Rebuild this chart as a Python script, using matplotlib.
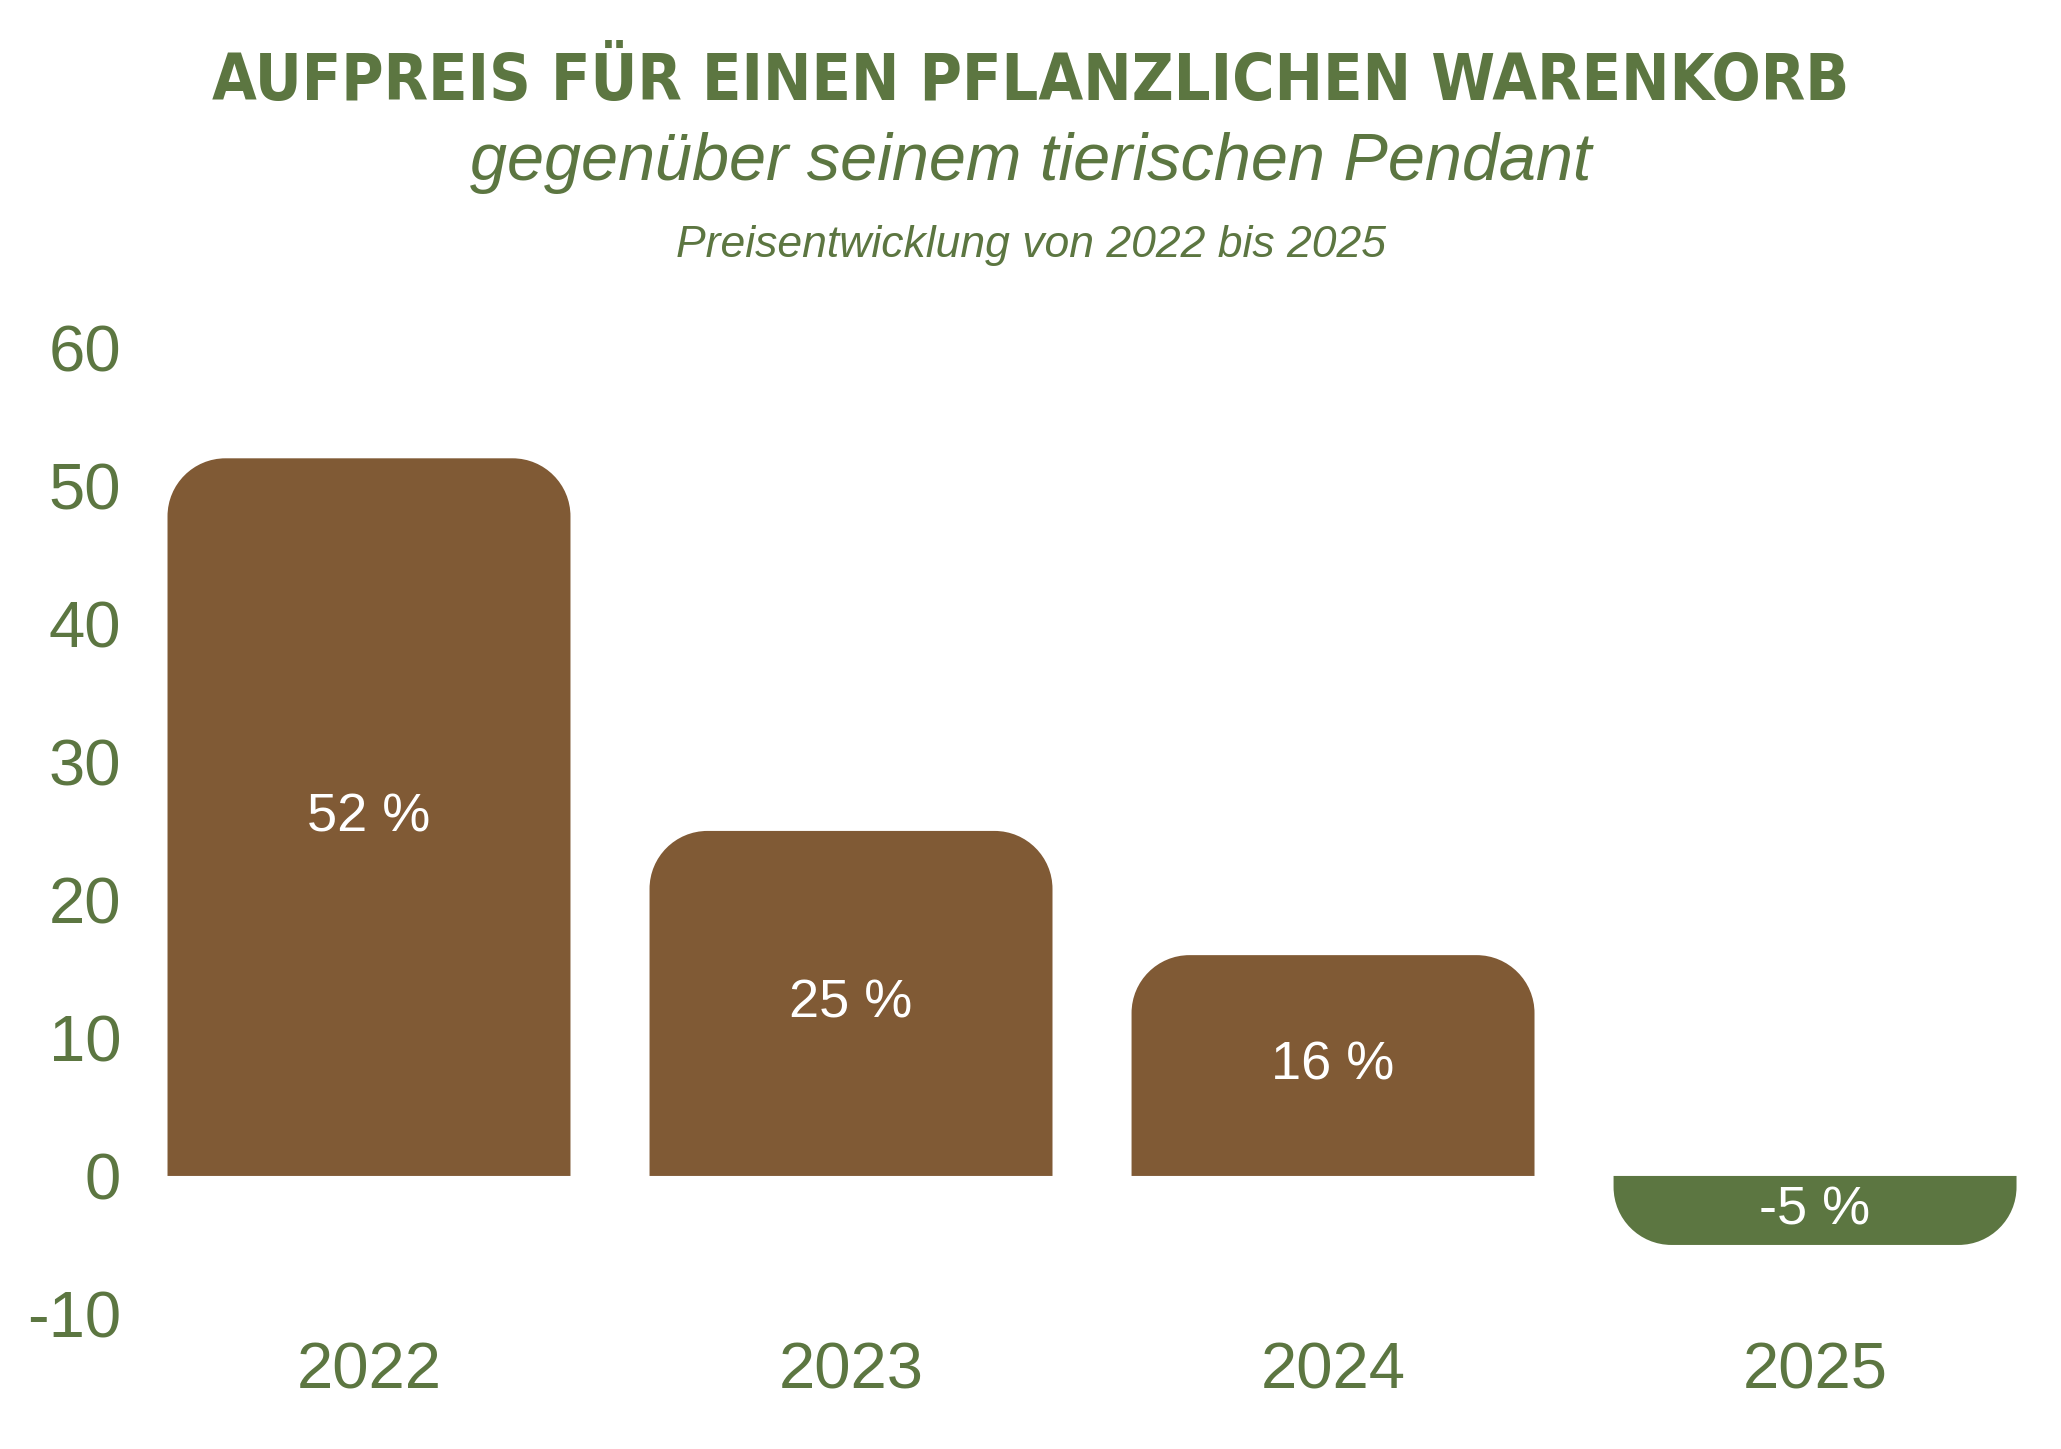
import numpy as np
import matplotlib
matplotlib.use('Agg')
import matplotlib.pyplot as plt
from matplotlib import font_manager
from matplotlib.path import Path
from matplotlib.patches import PathPatch

# data
years = ['2022', '2023', '2024', '2025']
values = [52, 25, 16, -5]
labels = ['52 %', '25 %', '16 %', '-5 %']
yticks = [-10, 0, 10, 20, 30, 40, 50, 60]

brown = '#805A35'
green = '#5C7641'

plt.rcParams['font.family'] = ['Liberation Sans', 'DejaVu Sans']
plt.rcParams['axes.unicode_minus'] = False

fig = plt.figure(figsize=(20.61, 14.49), dpi=100)
ax = fig.add_axes([0.0621, 0.0932, 0.9355, 0.6667])
ax.set_xlim(-0.5, 3.5)
ax.set_ylim(-10, 60)

bar_w = 0.836
radius_px = 58

# pixels per data unit, to get round corners in screen space
fig.canvas.draw()
p0 = ax.transData.transform((0, 0))
p1 = ax.transData.transform((1, 1))
rx = radius_px / (p1[0] - p0[0])
ry = radius_px / (p1[1] - p0[1])
k = 0.5523


def rounded_bar(x, h, color):
    # rounded corners on the far end only (top for positive, bottom for negative)
    l, r = x - bar_w / 2, x + bar_w / 2
    s = 1 if h >= 0 else -1
    ryy = min(ry, abs(h)) * s
    verts = [
        (l, 0), (l, h - ryy),
        (l, h - ryy + k * ryy), (l + rx - k * rx, h), (l + rx, h),
        (r - rx, h),
        (r - rx + k * rx, h), (r, h - ryy + k * ryy), (r, h - ryy),
        (r, 0), (l, 0),
    ]
    codes = [Path.MOVETO, Path.LINETO,
             Path.CURVE4, Path.CURVE4, Path.CURVE4,
             Path.LINETO,
             Path.CURVE4, Path.CURVE4, Path.CURVE4,
             Path.LINETO, Path.CLOSEPOLY]
    ax.add_patch(PathPatch(Path(verts, codes), facecolor=color,
                           edgecolor='none'))


x = np.arange(len(years))
for xi, v, lab in zip(x, values, labels):
    rounded_bar(xi, v, brown if v >= 0 else green)
    ax.text(xi, v / 2, lab, ha='center', va='center', color='white',
            fontsize=39)

ax.set_xticks(x)
ax.set_xticklabels(years)
ax.set_yticks(yticks)
ax.tick_params(axis='both', length=0, labelsize=47, colors=green)
ax.tick_params(axis='y', pad=5)
ax.tick_params(axis='x', pad=20)
for s in ax.spines.values():
    s.set_visible(False)

# title: condensed bold if available, otherwise plain bold, fitted to width
cond = font_manager.findfont(font_manager.FontProperties(
    family='DejaVu Sans', stretch='condensed', weight='bold'))
if 'Condensed' in cond:
    title_family = ['DejaVu Sans']
    title_stretch = 'condensed'
else:
    title_family = ['Liberation Sans', 'DejaVu Sans']
    title_stretch = 'normal'
title = fig.text(0.5, 0.931, 'AUFPREIS FÜR EINEN PFLANZLICHEN WARENKORB',
                 ha='center', va='baseline', color=green, fontsize=50,
                 fontweight='bold', fontstretch=title_stretch,
                 family=title_family)
fig.canvas.draw()
w = title.get_window_extent().width
title.set_fontsize(50 * 1641 / w)

fig.text(0.5, 0.8758, 'gegenüber seinem tierischen Pendant',
         ha='center', va='baseline', color=green, fontsize=48,
         style='italic')
fig.text(0.5, 0.8226, 'Preisentwicklung von 2022 bis 2025',
         ha='center', va='baseline', color=green, fontsize=32,
         style='italic')

fig.savefig('out.png', dpi=100)
